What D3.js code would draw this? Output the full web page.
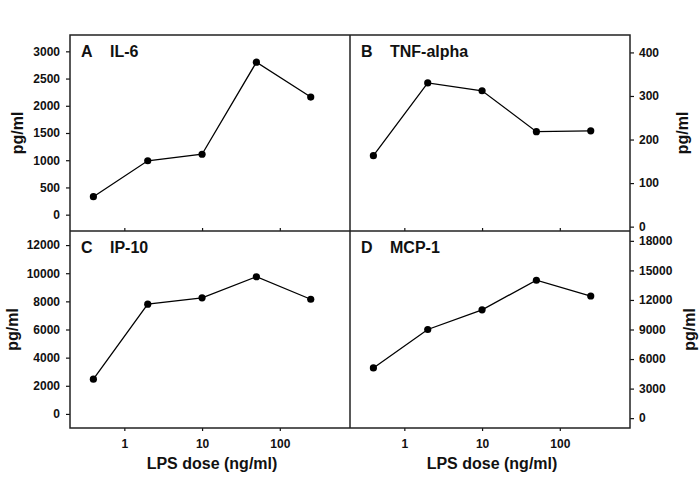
<!DOCTYPE html>
<html>
<head>
<meta charset="utf-8">
<script src="https://cdn.jsdelivr.net/npm/d3@7/dist/d3.min.js"></script>
<style>
  html, body { margin: 0; padding: 0; background: #fff; }
  svg text { font-family: "Liberation Sans", Arial, sans-serif; font-weight: bold; fill: #111; }
</style>
</head>
<body>
<svg id="chart" width="700" height="477"></svg>
<script>
// ---- data ----
const doses = [0.4, 2, 10, 50, 250];
const il6 = [330, 990, 1110, 2800, 2160];
const tnfAlpha = [163, 330, 312, 218, 220];
const ip10 = [2470, 7800, 8250, 9750, 8150];
const mcp1 = [5100, 9000, 11000, 14000, 12400];

const xTicks = [1, 10, 100];
const il6Ticks = [0, 500, 1000, 1500, 2000, 2500, 3000];
const tnfTicks = [0, 100, 200, 300, 400];
const ip10Ticks = [0, 2000, 4000, 6000, 8000, 10000, 12000];
const mcp1Ticks = [0, 3000, 6000, 9000, 12000, 15000, 18000];

const panelLetters = ["A", "B", "C", "D"];
const panelNames = ["IL-6", "TNF-alpha", "IP-10", "MCP-1"];
const xTitle = "LPS dose (ng/ml)";
const yTitle = "pg/ml";

// ---- layout ----
const svg = d3.select("#chart");
const L = 70, M = 350, R = 630, T = 35, H = 231, B = 428;

const xL = d3.scaleLog().domain([0.2, 800]).range([L, M]);
const xR = d3.scaleLog().domain([0.2, 800]).range([M, R]);

const panels = [
  { x: xL, y: d3.scaleLinear().domain([-300, 3300]).range([H, T]), vals: il6, ticks: il6Ticks, side: "left", row: "top" },
  { x: xR, y: d3.scaleLinear().domain([-10, 440]).range([H, T]), vals: tnfAlpha, ticks: tnfTicks, side: "right", row: "top" },
  { x: xL, y: d3.scaleLinear().domain([-1000, 13000]).range([B, H]), vals: ip10, ticks: ip10Ticks, side: "left", row: "bottom" },
  { x: xR, y: d3.scaleLinear().domain([-1000, 19000]).range([B, H]), vals: mcp1, ticks: mcp1Ticks, side: "right", row: "bottom" }
];

const fmt = d3.format("d");

panels.forEach((p, i) => {
  const g = svg.append("g");
  // y axis
  if (p.side === "left") {
    const ax = g.append("g").attr("transform", `translate(${L},0)`)
      .call(d3.axisLeft(p.y).tickValues(p.ticks).tickFormat(fmt).tickSize(4).tickPadding(6));
    ax.select(".domain").remove();
  } else {
    const ax = g.append("g").attr("transform", `translate(${R},0)`)
      .call(d3.axisRight(p.y).tickValues(p.ticks).tickFormat(fmt).tickSize(4).tickPadding(5));
    ax.select(".domain").remove();
  }
  // x axis
  if (p.row === "top") {
    const ax = g.append("g").attr("transform", `translate(0,${H})`)
      .call(d3.axisTop(p.x).tickValues(xTicks).tickFormat("").tickSize(3));
    ax.select(".domain").remove();
  } else {
    const ax = g.append("g").attr("transform", `translate(0,${B})`)
      .call(d3.axisBottom(p.x).tickValues(xTicks).tickFormat(fmt).tickSize(3).tickPadding(8.5));
    ax.select(".domain").remove();
  }
  g.selectAll(".tick text").style("font-size", "12px").style("font-family", "'Liberation Sans', Arial, sans-serif").style("font-weight", "bold").attr("fill", "#111");
  g.selectAll(".tick line").attr("stroke", "#111").attr("stroke-width", 1.2);

  // line + markers
  const pts = doses.map((d, k) => [p.x(d), p.y(p.vals[k])]);
  g.append("path").attr("d", d3.line()(pts)).attr("fill", "none").attr("stroke", "#000").attr("stroke-width", 1.3);
  g.selectAll("circle.m").data(pts).join("circle").attr("class", "m")
    .attr("cx", d => d[0]).attr("cy", d => d[1]).attr("r", 3.6).attr("fill", "#000");

  // panel titles
  const x0 = p.x.range()[0];
  const yTop = p.y.range()[1];
  g.append("text").attr("x", x0 + 11).attr("y", yTop + 22).style("font-size", "16px").text(panelLetters[i]);
  g.append("text").attr("x", x0 + 40).attr("y", yTop + 22).style("font-size", "16px").text(panelNames[i]);
});

// frame
const frame = svg.append("g").attr("fill", "none").attr("stroke", "#222").attr("stroke-width", 1.5);
frame.append("rect").attr("x", L).attr("y", T).attr("width", R - L).attr("height", B - T);
frame.append("line").attr("x1", L).attr("x2", R).attr("y1", H).attr("y2", H);
frame.append("line").attr("x1", M).attr("x2", M).attr("y1", T).attr("y2", B);

// y titles
const yTitles = [
  { x: 23, y: (T + H) / 2 },
  { x: 688, y: (T + H) / 2 },
  { x: 18, y: (H + B) / 2 },
  { x: 695, y: (H + B) / 2 }
];
yTitles.forEach(t => {
  svg.append("text").attr("transform", `translate(${t.x},${t.y}) rotate(-90)`)
    .attr("text-anchor", "middle").style("font-size", "16px").text(yTitle);
});

// x titles
[(L + M) / 2, (M + R) / 2].forEach(cx => {
  svg.append("text").attr("x", cx + 2).attr("y", 469).attr("text-anchor", "middle")
    .style("font-size", "16px").text(xTitle);
});
</script>
</body>
</html>
